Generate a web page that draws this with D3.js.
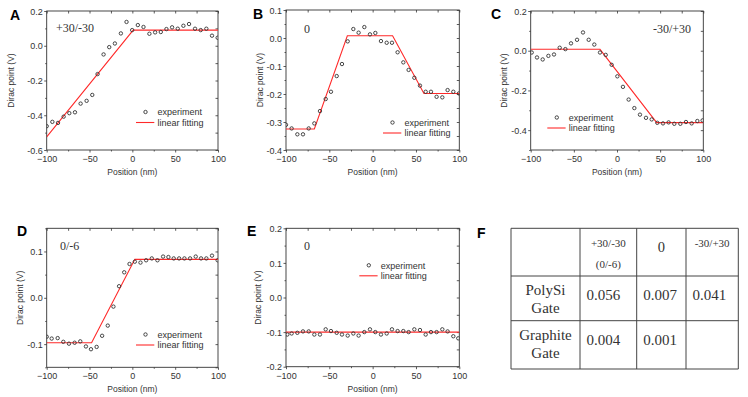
<!DOCTYPE html>
<html>
  <head>
    <meta charset="utf-8">
    <title></title>
    <script src="https://d3js.org/d3.v7.min.js" charset="utf-8"></script>
    <style>
      body { margin: 0; background: #fff; }
    </style>
  </head>
  <body>
  <div id="container"></div>
  <script>
    /* ------------------
      data
    ------------------ */

    var xTicks = [-100, -50, 0, 50, 100];
    var xMinor = [-75, -25, 25, 75];

    // A : +30/-30
    var posA = [-100,-93.4,-86.8,-80.2,-73.6,-67,-60.4,-53.4,-46.8,-40.6,-33.6,-27,-20.4,-13.4,-6.8,-0.2,6.4,13,19.9,26.6,33.2,39.8,46.4,53,59.6,66.2,73.2,79.8,86.4,93,99.6];
    var dirA = [-0.463,-0.438,-0.444,-0.408,-0.388,-0.383,-0.333,-0.317,-0.283,-0.163,-0.05,-0.008,0.013,0.071,0.137,0.09,0.119,0.108,0.069,0.077,0.079,0.096,0.106,0.098,0.115,0.125,0.098,0.09,0.098,0.058,0.046];
    var fitXA = [-100, 1, 100];
    var fitYA = [-0.525, 0.09, 0.09];
    var yTicksA = [-0.6, -0.4, -0.2, 0, 0.2];
    var yMinorA = [-0.5, -0.3, -0.1, 0.1];

    // B : 0
    var posB = [-100,-93.5,-86.9,-80.4,-73.8,-67.3,-60.8,-54.2,-48.1,-41.5,-35.4,-28.8,-22.3,-16.2,-9.6,-3.1,3.1,9.6,16.2,22.3,28.8,35.4,41.5,48.1,54.6,61.2,67.3,73.8,80.4,86.5,93.1,99.6];
    var dirB = [-0.31,-0.323,-0.344,-0.344,-0.323,-0.305,-0.261,-0.218,-0.192,-0.136,-0.093,-0.012,0.032,0.019,0.039,0.013,0.018,-0.011,-0.017,-0.017,-0.051,-0.087,-0.114,-0.142,-0.170,-0.192,-0.192,-0.210,-0.212,-0.186,-0.192,-0.198];
    var fitXB = [-100, -67.3, -29.2, 23, 59.2, 100];
    var fitYB = [-0.325, -0.325, 0.008, 0.008, -0.198, -0.198];
    var yTicksB = [-0.4, -0.3, -0.2, -0.1, 0, 0.1];
    var yMinorB = [-0.35, -0.25, -0.15, -0.05, 0.05];

    // C : -30/+30
    var posC = [-98.8,-92.7,-86.1,-79.5,-73,-66.4,-59.8,-53.3,-46.3,-39.4,-32.8,-26.3,-19.7,-13.1,-6.2,0.4,6.9,13.5,20.1,26.6,33.6,40.2,46.7,53.3,59.8,66.4,73.4,79.9,86.5,93.1,99.2];
    var dirC = [-0.009,-0.034,-0.044,-0.026,-0.019,0.015,0.008,0.037,0.055,0.092,0.055,0.031,-0.009,-0.021,-0.071,-0.129,-0.182,-0.246,-0.289,-0.322,-0.338,-0.346,-0.363,-0.366,-0.361,-0.368,-0.368,-0.359,-0.366,-0.354,-0.351];
    var fitXC = [-100, -19.7, 46, 100];
    var fitYC = [0.007, 0.007, -0.362, -0.362];
    var yTicksC = [-0.4, -0.2, 0, 0.2];
    var yMinorC = [-0.5, -0.3, -0.1, 0.1];

    // D : 0/-6
    var posD = [-100,-94.2,-87.2,-80.6,-74,-67.4,-60.8,-54.2,-48.3,-41.7,-35.3,-28.7,-22.1,-15.5,-9.5,-3.3,2.9,9.5,16.1,22.7,29.3,35.9,42.1,48.3,54.6,60.8,67.4,74,80.2,86.4,93,99.6];
    var dirD = [-0.084,-0.088,-0.087,-0.095,-0.099,-0.097,-0.094,-0.105,-0.111,-0.106,-0.082,-0.060,-0.019,0.025,0.055,0.073,0.078,0.076,0.081,0.085,0.081,0.089,0.088,0.085,0.085,0.085,0.085,0.089,0.085,0.085,0.091,0.081];
    var fitXD = [-100, -47.6, 2.9, 100];
    var fitYD = [-0.097, -0.097, 0.083, 0.083];
    var yTicksD = [-0.1, 0, 0.1];
    var yMinorD = [-0.15, -0.05, 0.05, 0.15];

    // E : 0 (graphite gate)
    var posE = [-98.5,-93.5,-86.9,-80.4,-73.8,-67.3,-60.8,-54.2,-48.1,-41.5,-35.4,-28.8,-22.3,-16.2,-9.6,-3.1,3.1,9.6,16.2,22.3,28.8,35.4,41.5,48.1,54.6,61.2,67.3,73.8,80.4,86.5,93.1,98.8];
    var dirE = [-0.107,-0.104,-0.102,-0.098,-0.098,-0.107,-0.107,-0.092,-0.097,-0.102,-0.107,-0.110,-0.104,-0.110,-0.100,-0.092,-0.100,-0.107,-0.104,-0.092,-0.097,-0.097,-0.100,-0.092,-0.094,-0.107,-0.100,-0.100,-0.092,-0.098,-0.112,-0.118];
    var fitXE = [-100, 100];
    var fitYE = [-0.1, -0.1];
    var yTicksE = [-0.2, -0.1, 0, 0.1, 0.2];
    var yMinorE = [-0.15, -0.05, 0.05, 0.15];

    // F : table
    var colHeads = [["+30/-30", "(0/-6)"], ["0"], ["-30/+30"]];
    var rowHeads = [["PolySi", "Gate"], ["Graphite", "Gate"]];
    var cells = [["0.056", "0.007", "0.041"], ["0.004", "0.001", ""]];

    /* ------------------
      layout
    ------------------ */

    var SANS = "'Liberation Sans', Arial, sans-serif";
    var SERIF = "'Liberation Serif', 'Times New Roman', serif";

    var panels = [
      { id: "A", x: posA, y: dirA, fx: fitXA, fy: fitYA, yt: yTicksA, ym: yMinorA, dom: [-0.6, 0.2],
        box: [46.7, 218, 11, 150], letter: [10, 20], ylab: 11.5, note: "+30/-30", noteAt: [56, 32], leg: [136, 112] },
      { id: "B", x: posB, y: dirB, fx: fitXB, fy: fitYB, yt: yTicksB, ym: yMinorB, dom: [-0.4, 0.1],
        box: [286, 459.3, 10, 150], letter: [253, 19], ylab: 260, note: "0", noteAt: [304, 33], leg: [383, 122.5] },
      { id: "C", x: posC, y: dirC, fx: fitXC, fy: fitYC, yt: yTicksC, ym: yMinorC, dom: [-0.5, 0.2],
        box: [530.7, 703.3, 11, 150], letter: [491, 19], ylab: 504, note: "-30/+30", noteAt: [653, 33], leg: [547.3, 117.5] },
      { id: "D", x: posD, y: dirD, fx: fitXD, fy: fitYD, yt: yTicksD, ym: yMinorD, dom: [-0.15, 0.15],
        box: [46.7, 218, 228.3, 367.3], letter: [17, 236], ylab: 20.5, note: "0/-6", noteAt: [60, 250], leg: [136, 334.5] },
      { id: "E", x: posE, y: dirE, fx: fitXE, fy: fitYE, yt: yTicksE, ym: yMinorE, dom: [-0.2, 0.2],
        box: [286, 459.3, 228.3, 366.7], letter: [247, 236], ylab: 258, note: "0", noteAt: [304, 250], leg: [359.3, 265.3] }
    ];

    var ink = "#333";
    var fitColor = "#ff2a2a";
    var fmt = function(d) { return d3.format(".1f")(d).replace("\u2212", "-"); };

    var svg = d3.select("#container").append("svg")
      .attr("width", 748).attr("height", 397)
      .style("display", "block");

    panels.forEach(function(p) {
      var x = d3.scaleLinear().domain([-100, 100]).range([p.box[0], p.box[1]]);
      var y = d3.scaleLinear().domain(p.dom).range([p.box[3], p.box[2]]);
      var g = svg.append("g");

      // axes: outward ticks left/bottom, inward ticks top/right
      var left = g.append("g").attr("transform", "translate(" + p.box[0] + ",0)")
        .call(d3.axisLeft(y).tickValues(p.yt).tickSize(2.5).tickPadding(1.5).tickFormat(fmt));
      g.append("g").attr("transform", "translate(" + p.box[0] + ",0)")
        .call(d3.axisLeft(y).tickValues(p.ym).tickSize(1.5).tickFormat(""));
      g.append("g").attr("transform", "translate(0," + p.box[3] + ")")
        .call(d3.axisBottom(x).tickValues(xTicks).tickSize(2.5).tickPadding(3).tickFormat(d3.format("d")));
      g.append("g").attr("transform", "translate(0," + p.box[3] + ")")
        .call(d3.axisBottom(x).tickValues(xMinor).tickSize(1.5).tickFormat(""));
      g.append("g").attr("transform", "translate(0," + p.box[2] + ")")
        .call(d3.axisTop(x).tickValues(xTicks.concat(xMinor)).tickSize(-2.5).tickFormat(""));
      g.append("g").attr("transform", "translate(" + p.box[1] + ",0)")
        .call(d3.axisRight(y).tickValues(p.yt.concat(p.ym)).tickSize(-2.5).tickFormat(""));

      g.selectAll(".domain").remove();
      g.selectAll(".tick line").attr("stroke", ink).attr("stroke-width", 0.8);
      g.selectAll(".tick text").attr("fill", ink).style("font-size", "9px")
        .style("font-family", SANS);
      left.selectAll(".tick text").attr("dy", "0.35em");

      g.append("rect")
        .attr("x", p.box[0]).attr("y", p.box[2])
        .attr("width", p.box[1] - p.box[0]).attr("height", p.box[3] - p.box[2])
        .attr("fill", "none").attr("stroke", ink).attr("stroke-width", 0.9);

      // clip for marks
      g.append("clipPath").attr("id", "clip" + p.id).append("rect")
        .attr("x", p.box[0]).attr("y", p.box[2])
        .attr("width", p.box[1] - p.box[0]).attr("height", p.box[3] - p.box[2]);
      var plot = g.append("g").attr("clip-path", "url(#clip" + p.id + ")");

      var fit = p.fx.map(function(v, i) { return [v, p.fy[i]]; });
      plot.append("path")
        .datum(fit)
        .attr("d", d3.line().x(function(d) { return x(d[0]); }).y(function(d) { return y(d[1]); }))
        .attr("fill", "none").attr("stroke", fitColor).attr("stroke-width", 1.1);

      plot.selectAll("circle").data(p.x).enter().append("circle")
        .attr("cx", function(d) { return x(d); })
        .attr("cy", function(d, i) { return y(p.y[i]); })
        .attr("r", 1.7)
        .attr("fill", "none").attr("stroke", ink).attr("stroke-width", 0.9);

      // labels
      g.append("text").attr("x", p.letter[0]).attr("y", p.letter[1])
        .style("font-family", SANS).style("font-size", "14px").style("font-weight", "bold")
        .attr("fill", "#000").text(p.id);
      g.append("text")
        .attr("transform", "translate(" + p.ylab + "," + (p.box[2] + p.box[3]) / 2 + ") rotate(-90)")
        .attr("text-anchor", "middle").attr("dy", "0.35em")
        .style("font-family", SANS).style("font-size", "8.5px").attr("fill", ink)
        .text("Dirac point (V)");
      g.append("text")
        .attr("x", (p.box[0] + p.box[1]) / 2).attr("y", p.box[3] + 25)
        .attr("text-anchor", "middle")
        .style("font-family", SANS).style("font-size", "8.5px").attr("fill", ink)
        .text("Position (nm)");
      g.append("text")
        .attr("x", p.noteAt[0]).attr("y", p.noteAt[1])
        .style("font-family", SERIF).style("font-size", "12px").attr("fill", ink)
        .text(p.note);

      // legend
      var lg = g.append("g").attr("transform", "translate(" + p.leg[0] + "," + p.leg[1] + ")");
      lg.append("circle").attr("cx", 9.5).attr("cy", 0).attr("r", 1.7)
        .attr("fill", "none").attr("stroke", ink).attr("stroke-width", 0.9);
      lg.append("text").attr("x", 21.5).attr("y", 3.2)
        .style("font-family", SANS).style("font-size", "9px").attr("fill", ink).text("experiment");
      lg.append("line").attr("x1", 0).attr("x2", 18.3).attr("y1", 10.5).attr("y2", 10.5)
        .attr("stroke", fitColor).attr("stroke-width", 1.1);
      lg.append("text").attr("x", 21.5).attr("y", 13.7)
        .style("font-family", SANS).style("font-size", "9px").attr("fill", ink).text("linear fitting");
    });

    /* ------------------
      table F
    ------------------ */

    var colX = [511, 580, 636.7, 686, 738.3];
    var rowY = [228.3, 276, 320.7, 369];
    var tbl = svg.append("g");

    tbl.append("text").attr("x", 477).attr("y", 238)
      .style("font-family", SANS).style("font-size", "14px").style("font-weight", "bold")
      .attr("fill", "#000").text("F");

    colX.forEach(function(cx) {
      tbl.append("line").attr("x1", cx).attr("x2", cx).attr("y1", rowY[0]).attr("y2", rowY[3])
        .attr("stroke", "#444").attr("stroke-width", 1);
    });
    rowY.forEach(function(ry) {
      tbl.append("line").attr("x1", colX[0]).attr("x2", colX[4]).attr("y1", ry).attr("y2", ry)
        .attr("stroke", "#444").attr("stroke-width", 1);
    });

    function serifText(x, y, size, str, anchor) {
      return tbl.append("text").attr("x", x).attr("y", y)
        .attr("text-anchor", anchor || "start")
        .style("font-family", SERIF).style("font-size", size + "px")
        .attr("fill", ink).text(str);
    }

    colHeads.forEach(function(h, i) {
      var cx = (colX[i + 1] + colX[i + 2]) / 2;
      if (h.length === 2) {
        serifText(cx, 247, 11, h[0], "middle");
        serifText(cx, 268, 11, h[1], "middle");
      } else if (h[0] === "0") {
        serifText(cx, 251.5, 14.5, h[0], "middle");
      } else {
        serifText(cx, 247, 11, h[0], "middle");
      }
    });

    rowHeads.forEach(function(r, j) {
      var cx = (colX[0] + colX[1]) / 2;
      var top = rowY[j + 1];
      serifText(cx, top + 19, 15, r[0], "middle");
      serifText(cx, top + 37, 15, r[1], "middle");
      cells[j].forEach(function(v, i) {
        serifText(colX[i + 1] + 6.5, top + 24, 15, v);
      });
    });
  </script>
</body>
</html>
